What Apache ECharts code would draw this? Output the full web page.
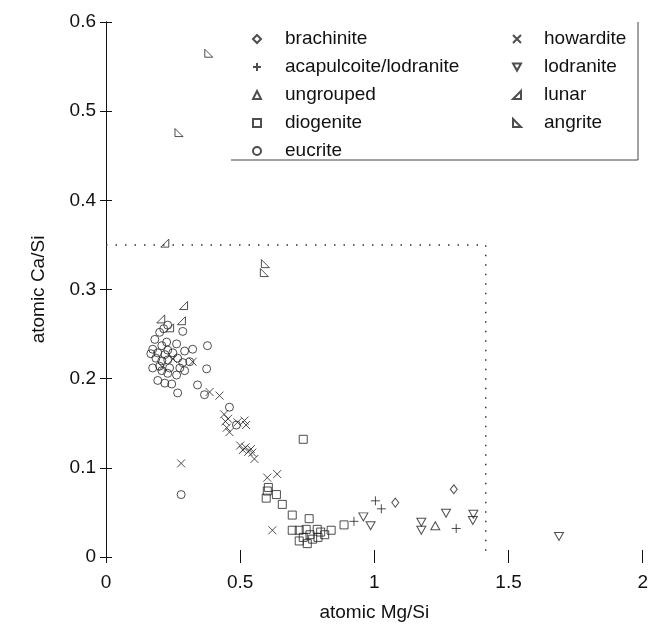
<!DOCTYPE html>
<html>
<head>
<meta charset="UTF-8">
<title>Ca/Si vs Mg/Si</title>
<script src="https://cdn.jsdelivr.net/npm/echarts@6/dist/echarts.min.js"></script>
<style>
html, body { margin: 0; padding: 0; background: #fff; }
#chart { width: 651px; height: 627px; }
</style>
</head>
<body>
<div id="chart"></div>
<script type="text/javascript">
// point data [Mg/Si, Ca/Si]
var brachinite = [[1.078, 0.061], [1.296, 0.076]];
var acapulcoite = [[0.924, 0.040], [1.004, 0.063], [1.026, 0.054], [1.305, 0.032]];
var ungrouped = [[1.227, 0.035]];
var diogenite = [[0.735, 0.132], [0.605, 0.078], [0.601, 0.074], [0.635, 0.070], [0.597, 0.066],
	[0.657, 0.059], [0.694, 0.047], [0.757, 0.043], [0.694, 0.030], [0.720, 0.030], [0.746, 0.031],
	[0.787, 0.031], [0.800, 0.028], [0.839, 0.030], [0.887, 0.036], [0.720, 0.018], [0.750, 0.015],
	[0.770, 0.020], [0.790, 0.022], [0.815, 0.025], [0.760, 0.025], [0.735, 0.022]];
var eucrite = [[0.230, 0.260], [0.215, 0.256], [0.200, 0.252], [0.286, 0.253], [0.182, 0.244],
	[0.226, 0.241], [0.263, 0.239], [0.208, 0.237], [0.378, 0.237], [0.174, 0.233], [0.230, 0.232],
	[0.293, 0.231], [0.323, 0.233], [0.167, 0.228], [0.193, 0.229], [0.219, 0.227], [0.249, 0.229],
	[0.186, 0.223], [0.230, 0.221], [0.267, 0.223], [0.208, 0.220], [0.286, 0.218], [0.312, 0.219],
	[0.174, 0.212], [0.200, 0.214], [0.237, 0.212], [0.275, 0.212], [0.375, 0.211], [0.293, 0.209],
	[0.208, 0.209], [0.230, 0.206], [0.263, 0.204], [0.193, 0.198], [0.219, 0.195], [0.245, 0.194],
	[0.341, 0.193], [0.267, 0.184], [0.367, 0.182], [0.460, 0.168], [0.486, 0.148], [0.280, 0.070]];
var howardite = [[0.323, 0.219], [0.250, 0.222], [0.210, 0.213], [0.280, 0.105], [0.386, 0.185],
	[0.423, 0.181], [0.440, 0.160], [0.445, 0.152], [0.450, 0.145], [0.455, 0.155], [0.460, 0.140],
	[0.490, 0.151], [0.516, 0.153], [0.522, 0.148], [0.500, 0.125], [0.510, 0.120], [0.520, 0.123],
	[0.530, 0.118], [0.540, 0.121], [0.545, 0.117], [0.553, 0.110], [0.601, 0.089], [0.638, 0.093],
	[0.620, 0.030]];
var lodranite = [[0.959, 0.045], [0.986, 0.035], [1.175, 0.039], [1.175, 0.030], [1.267, 0.049],
	[1.369, 0.048], [1.367, 0.041], [1.688, 0.023]];
var lunar = [[0.219, 0.352], [0.289, 0.282], [0.204, 0.267], [0.281, 0.265], [0.237, 0.257]];
var angrite = [[0.383, 0.565], [0.272, 0.476], [0.594, 0.329], [0.590, 0.319]];
// dotted limit box
var limitLine = [[0, 0.35], [1.415, 0.35], [1.415, 0]];

var FONT = 'Liberation Sans';

function scatter(name, data, symbol, size) {
	return {
		name: name,
		type: 'scatter',
		data: data,
		symbol: symbol,
		symbolSize: size,
		itemStyle: { color: 'rgba(0,0,0,0)', borderColor: '#222', borderWidth: 1 },
		emphasis: { disabled: true }
	};
}

var legendText = { fontFamily: FONT, fontSize: 19, lineHeight: 20, color: '#111' };

var chart = echarts.init(document.getElementById('chart'), null, { renderer: 'canvas' });
var option = {
	animation: false,
	grid: { left: 106, right: 6, top: 22, bottom: 67 },
	graphic: [{
		type: 'rect', z: -1,
		shape: { x: 231, y: 22, width: 407, height: 138 },
		style: { fill: '#fff' }
	}, {
		type: 'polyline', z: -1,
		shape: { points: [[231, 160], [638, 160], [638, 22]] },
		style: { stroke: '#444', lineWidth: 1, fill: null }
	}],
	legend: [{
		data: ['brachinite', 'acapulcoite/lodranite', 'ungrouped', 'diogenite', 'eucrite'],
		orient: 'vertical', left: 252, top: 29, itemGap: 8, itemWidth: 8, itemHeight: 8,
		padding: 0,
		textStyle: Object.assign({ padding: [0, 0, 0, 19] }, legendText)
	}, {
		data: ['howardite', 'lodranite', 'lunar', 'angrite'],
		orient: 'vertical', left: 512, top: 29, itemGap: 8, itemWidth: 8, itemHeight: 8,
		padding: 0,
		textStyle: Object.assign({ padding: [0, 0, 0, 18] }, legendText)
	}],
	xAxis: [{
		type: 'value', min: 0, max: 2, interval: 0.5,
		name: 'atomic Mg/Si', nameLocation: 'middle', nameGap: 46,
		nameTextStyle: { fontFamily: FONT, fontSize: 19, color: '#111' },
		axisLine: { show: false },
		axisTick: { show: true, inside: true, length: 7, lineStyle: { color: '#111' } },
		axisLabel: { fontFamily: FONT, fontSize: 19, color: '#111', margin: 16 },
		splitLine: { show: false }
	}, {
		type: 'value', min: 0, max: 2, interval: 0.5, position: 'top', z: 5,
		axisLine: { show: false },
		axisTick: { show: true, inside: true, length: 6, lineStyle: { color: '#111' } },
		axisLabel: { show: false },
		splitLine: { show: false }
	}],
	yAxis: [{
		type: 'value', min: 0, max: 0.6, interval: 0.1,
		name: 'atomic Ca/Si', nameLocation: 'middle', nameGap: 58,
		nameTextStyle: { fontFamily: FONT, fontSize: 19, color: '#111' },
		axisLine: { show: true, lineStyle: { color: '#111', width: 1 } },
		axisTick: { show: true, inside: true, length: 6, lineStyle: { color: '#111' } },
		axisLabel: { fontFamily: FONT, fontSize: 19, color: '#111', margin: 10 },
		splitLine: { show: false }
	}, {
		type: 'value', min: 0, max: 0.6, interval: 0.1, position: 'right',
		axisLine: { show: true, lineStyle: { color: '#111', width: 1 } },
		axisTick: { show: true, inside: true, length: 6, lineStyle: { color: '#111' } },
		axisLabel: { show: false },
		splitLine: { show: false }
	}],
	series: [
		scatter('brachinite', brachinite, 'diamond', [7, 9]),
		scatter('acapulcoite/lodranite', acapulcoite, 'path://M0,5L10,5M5,0L5,10', 9),
		scatter('ungrouped', ungrouped, 'triangle', [9, 8]),
		scatter('diogenite', diogenite, 'rect', 8),
		scatter('eucrite', eucrite, 'circle', 8),
		scatter('howardite', howardite, 'path://M0,0L10,10M10,0L0,10', 8),
		scatter('lodranite', lodranite, 'path://M0,0L10,0L5,9Z', [9, 8]),
		scatter('lunar', lunar, 'path://M0,10L10,10L10,0Z', 8),
		scatter('angrite', angrite, 'path://M0,0L0,10L10,10Z', 8),
		{
			type: 'line', data: limitLine, symbol: 'none', silent: true,
			lineStyle: { color: '#333', width: 1.5, type: [1.5, 8] }
		}
	]
};
chart.setOption(option);
</script>
</body>
</html>
